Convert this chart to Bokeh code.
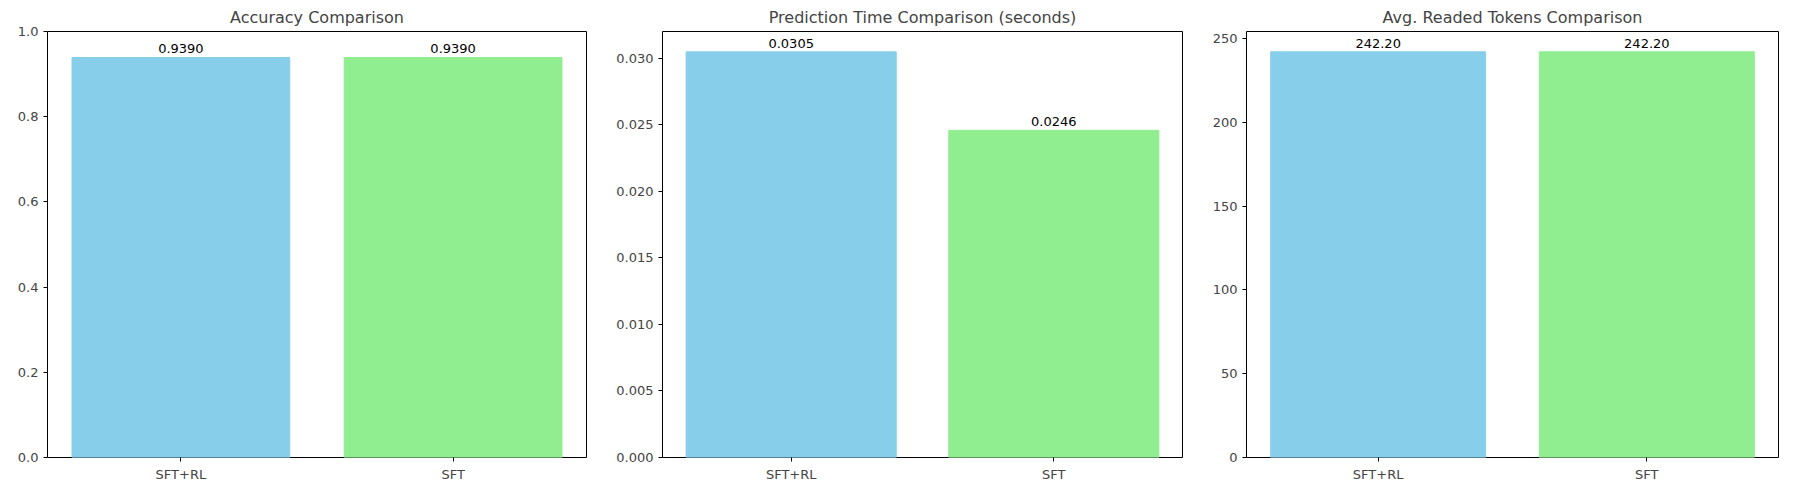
from bokeh.plotting import figure
from bokeh.models import Range1d, FixedTicker, ColumnDataSource
from bokeh.layouts import row
from bokeh.embed import file_html
from bokeh.resources import INLINE
from bokeh.core.properties import value

models = ["SFT+RL", "SFT"]
colors = ["#87CEEB", "#90EE90"]
accuracy = [0.9390, 0.9390]
pred_time = [0.0305, 0.0246]
tokens = [242.20, 242.20]

FONT = "DejaVu Sans"


def panel(title, vals, fmt, ymax, ticks, tick_fmt, left_border):
    p = figure(width=596, height=484, output_backend="svg", toolbar_location=None,
               title=title, x_range=Range1d(-0.49, 1.49), y_range=Range1d(0, ymax),
               min_border_left=left_border, min_border_right=10, min_border_top=20)
    p.title.align = "center"
    p.title.text_font = FONT
    p.title.text_font_style = "normal"
    p.title.text_font_size = "16px"
    src = ColumnDataSource(dict(x=[0, 1], top=vals, color=colors,
                                label=[fmt % v for v in vals]))
    p.vbar(x="x", top="top", width=0.8, color="color", source=src)
    p.text(x="x", y="top", text="label", source=src, text_align="center",
           text_baseline="bottom", y_offset=-4, text_font=value(FONT),
           text_font_size="13px", text_color="black")
    p.xaxis.ticker = FixedTicker(ticks=[0, 1])
    p.xaxis.major_label_overrides = {0: models[0], 1: models[1]}
    p.yaxis.ticker = FixedTicker(ticks=ticks)
    p.yaxis.major_label_overrides = {t: tick_fmt % t for t in ticks}
    for ax in (p.xaxis, p.yaxis):
        ax.major_label_text_font = FONT
        ax.major_label_text_font_size = "13px"
        ax.minor_tick_line_color = None
        ax.major_tick_in = 0
        ax.major_tick_out = 4
        ax.axis_line_color = None
    p.xgrid.grid_line_color = None
    p.ygrid.grid_line_color = None
    p.outline_line_color = "black"
    p.outline_line_width = 1
    return p


p1 = panel("Accuracy Comparison", accuracy, "%.4f", 1.0,
           [0, 0.2, 0.4, 0.6, 0.8, 1.0], "%.1f", 47)
p2 = panel("Prediction Time Comparison (seconds)", pred_time, "%.4f", 0.03203,
           [0, 0.005, 0.01, 0.015, 0.02, 0.025, 0.03], "%.3f", 66)
p3 = panel("Avg. Readed Tokens Comparison", tokens, "%.2f", 254.31,
           [0, 50, 100, 150, 200, 250], "%d", 54)

layout = row(p1, p2, p3)
open("out.html", "w").write(file_html(layout, INLINE))
